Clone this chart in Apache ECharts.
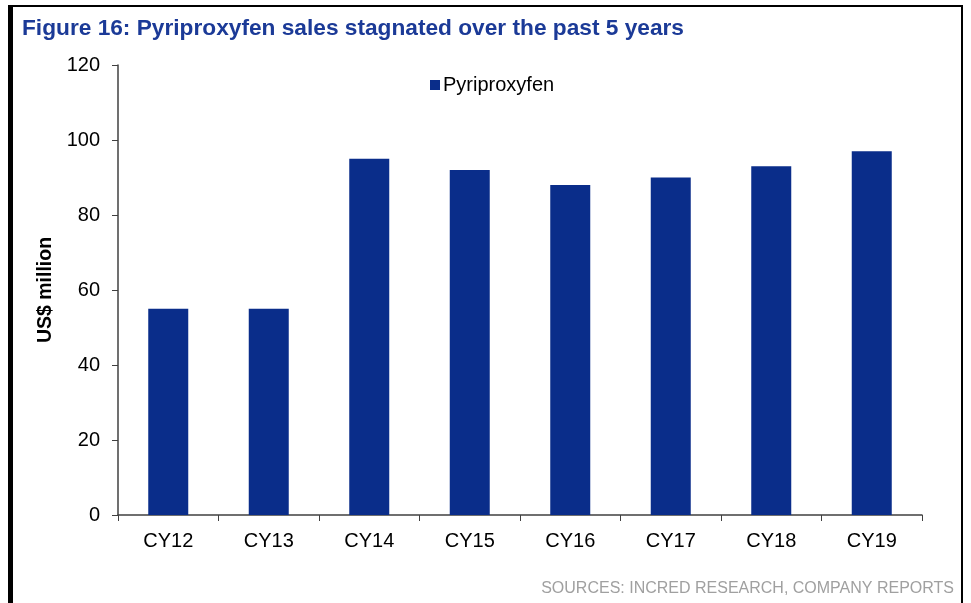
<!doctype html>
<html lang="en">
<head>
    <meta charset="UTF-8">
    <title>Figure 16</title>
    <script src="https://cdn.jsdelivr.net/npm/echarts@6/dist/echarts.min.js"></script>
    <style>
        html, body { margin: 0; padding: 0; background: #fff; }
        #main { width: 971px; height: 603px; }
    </style>
</head>
<body>
<div id="main"></div>
<script type="text/javascript">
    // data
    var years = ['CY12', 'CY13', 'CY14', 'CY15', 'CY16', 'CY17', 'CY18', 'CY19'];
    var sales = [55, 55, 95, 92, 88, 90, 93, 97];
    var seriesName = 'Pyriproxyfen';

    var myChart = echarts.init(document.getElementById('main'));

    myChart.setOption({
        backgroundColor: '#fff',
        animation: false,
        textStyle: { fontFamily: 'Liberation Sans, Arial, sans-serif' },
        title: {
            text: 'Figure 16: Pyriproxyfen sales stagnated over the past 5 years',
            left: 17,
            top: 12,
            textStyle: { color: '#1b3a97', fontSize: 22.7, fontWeight: 'bold' }
        },
        // page frame (black border left/top/right)
        graphic: [
            { type: 'rect', shape: { x: 8, y: 5, width: 5, height: 600 }, style: { fill: '#000' } },
            { type: 'rect', shape: { x: 8, y: 5, width: 955, height: 2 }, style: { fill: '#000' } },
            { type: 'rect', shape: { x: 961, y: 5, width: 2, height: 600 }, style: { fill: '#000' } },
            {
                type: 'text', right: 17, top: 581,
                style: {
                    text: 'SOURCES: INCRED RESEARCH, COMPANY REPORTS',
                    fill: '#a0a0a0', fontSize: 16,
                    fontFamily: 'Liberation Sans, Arial, sans-serif'
                }
            }
        ],
        legend: {
            data: [{ name: seriesName, icon: 'rect' }],
            left: 425,
            top: 70,
            itemWidth: 10,
            itemHeight: 10,
            itemGap: 4,
            textStyle: { fontSize: 20, color: '#000', padding: [0, 0, 0, -2] }
        },
        grid: { left: 118, right: 49, top: 65, bottom: 88, containLabel: false },
        xAxis: {
            type: 'category',
            data: years,
            axisLine: { lineStyle: { color: '#404040', width: 1.5 } },
            axisTick: { show: true, length: 6, lineStyle: { color: '#404040' } },
            axisLabel: { fontSize: 20, color: '#000', margin: 16 }
        },
        yAxis: {
            type: 'value',
            min: 0, max: 120, interval: 20,
            name: 'US$ million',
            nameLocation: 'middle',
            nameGap: 61,
            nameRotate: 90,
            nameTextStyle: { fontSize: 19.5, fontWeight: 'bold', color: '#000' },
            axisLine: { show: true, lineStyle: { color: '#404040', width: 1.5 } },
            axisTick: { show: true, length: 6, lineStyle: { color: '#404040' } },
            axisLabel: { fontSize: 20, color: '#000', margin: 18 },
            splitLine: { show: false }
        },
        series: [
            {
                name: seriesName,
                type: 'bar',
                data: sales,
                barWidth: 40,
                itemStyle: { color: '#0a2d8a' }
            }
        ]
    });
</script>
</body>
</html>
